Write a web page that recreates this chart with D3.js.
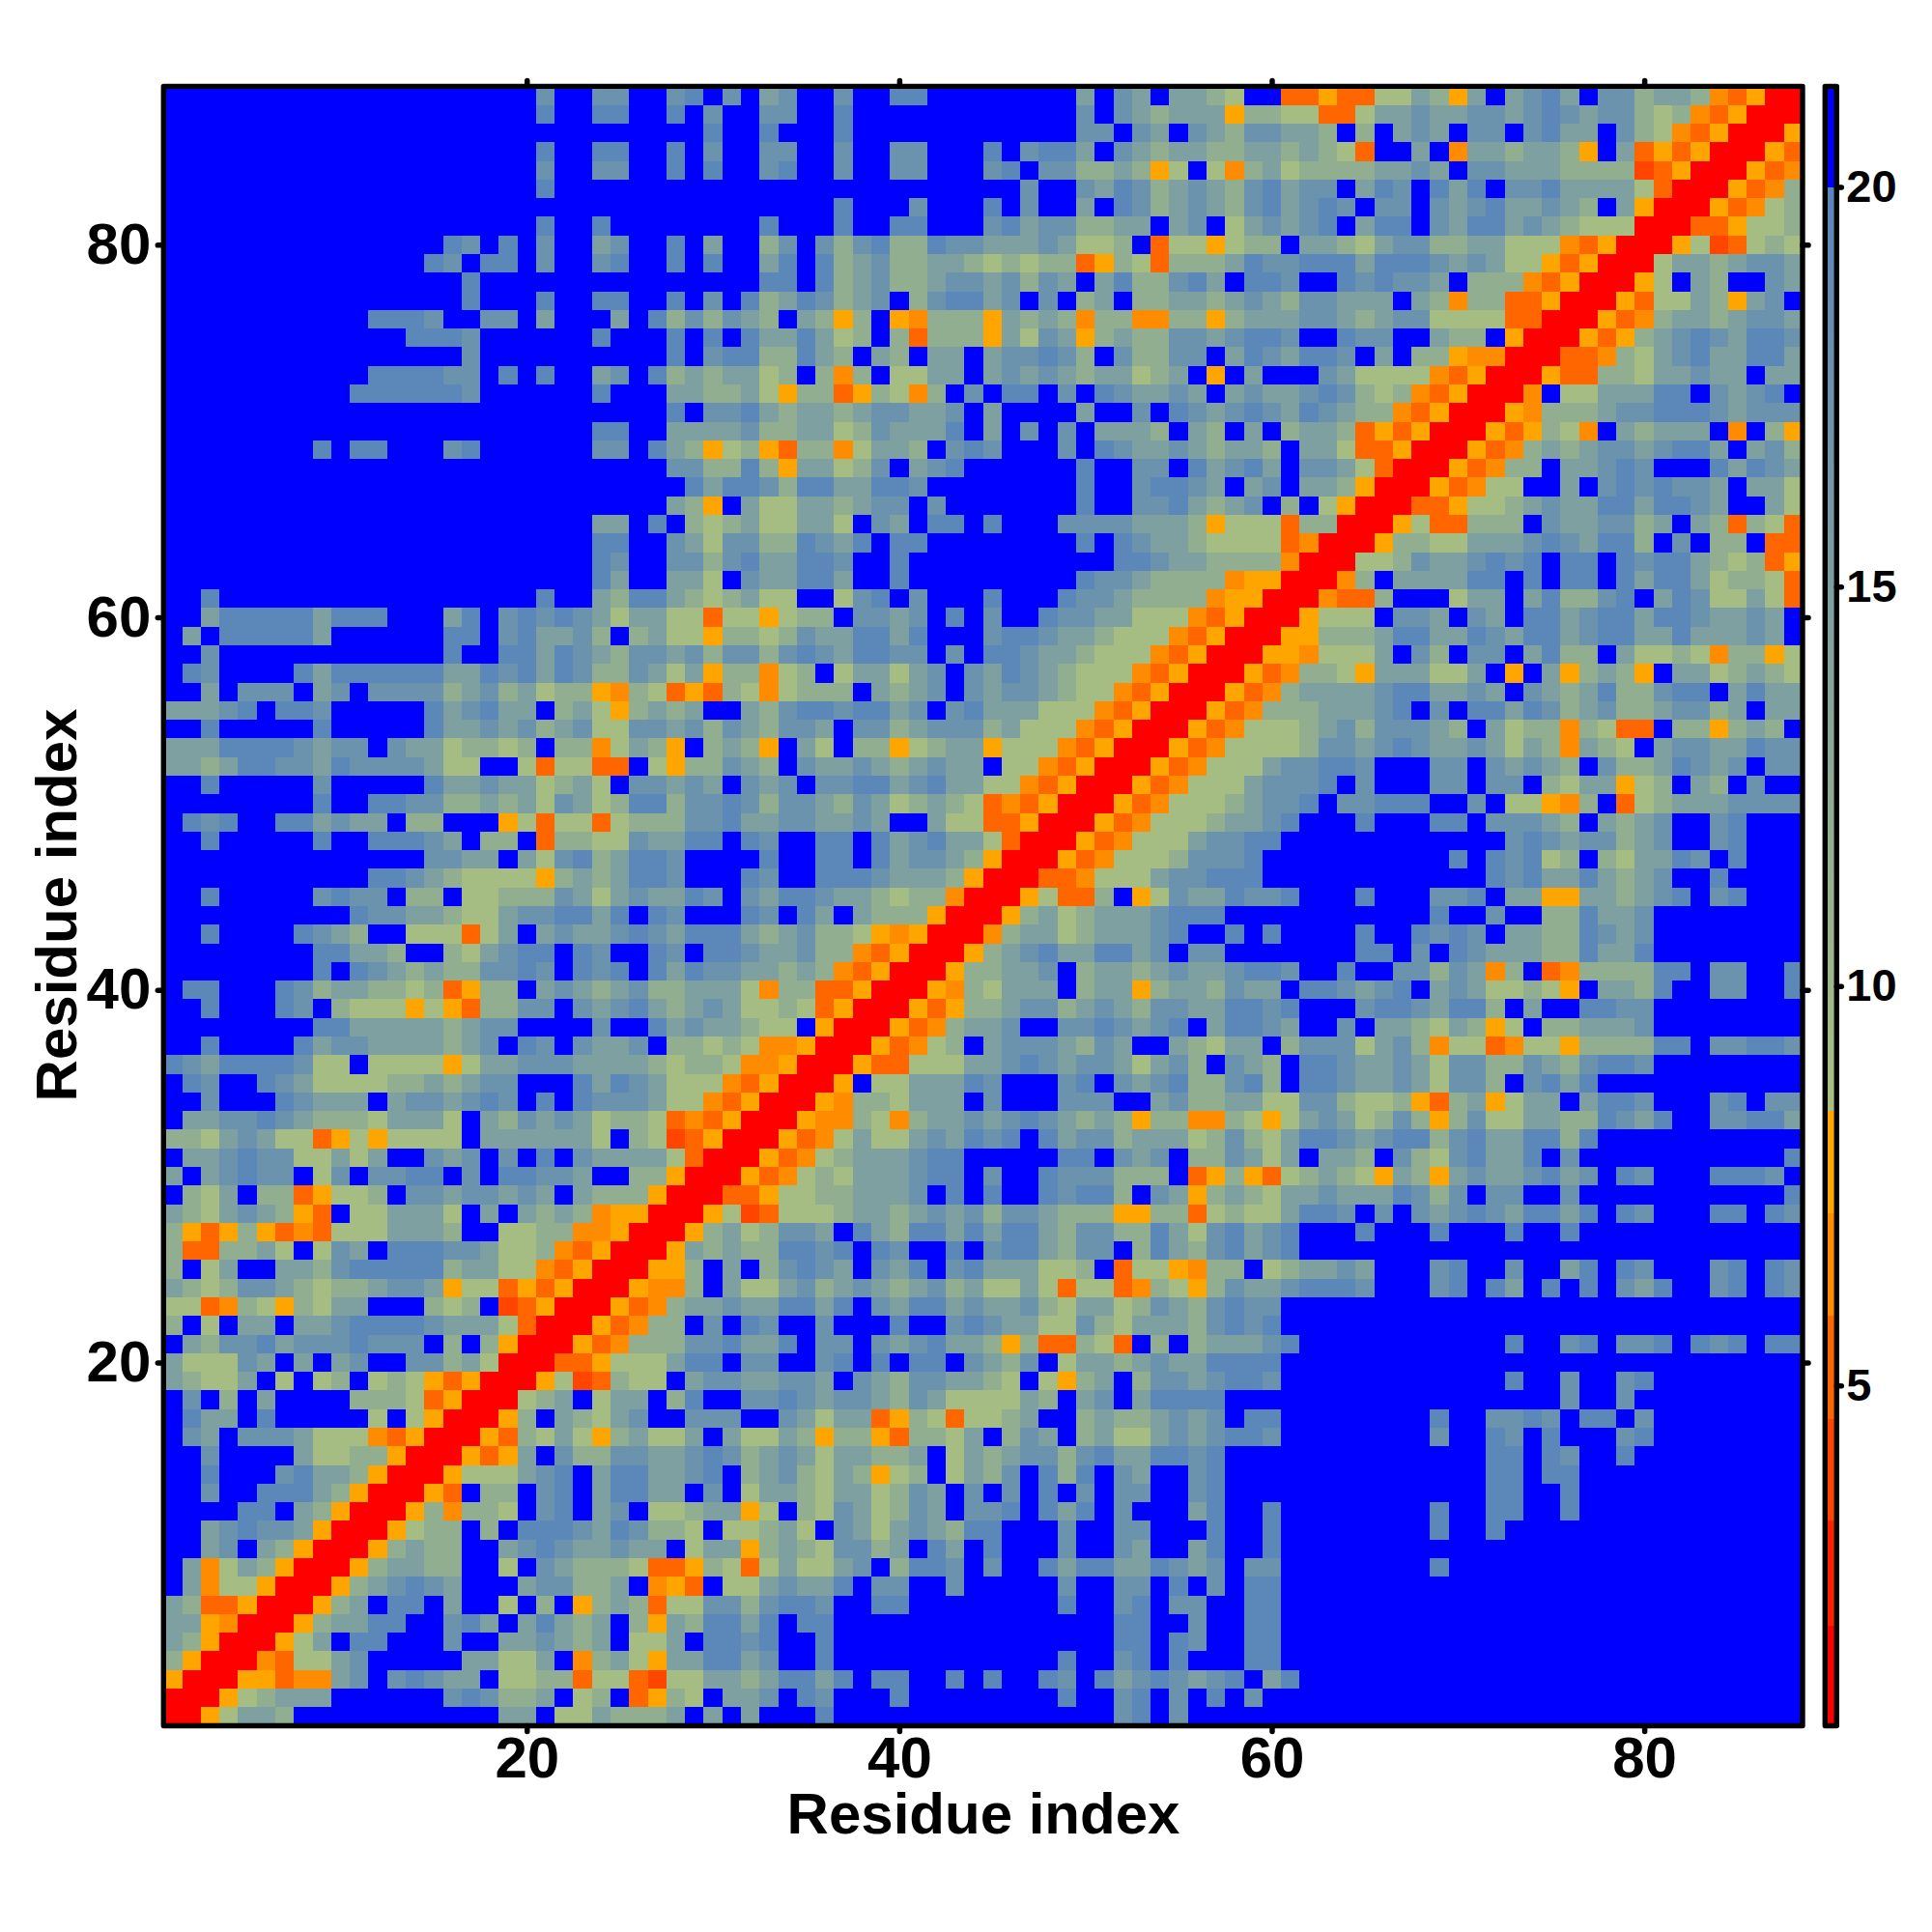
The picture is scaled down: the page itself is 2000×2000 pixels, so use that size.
<!DOCTYPE html>
<html>
<head>
<meta charset="utf-8">
<script src="https://cdn.jsdelivr.net/npm/d3@7/dist/d3.min.js"></script>
<style>
html,body{margin:0;padding:0;background:#fff}
svg{display:block}
text{font-family:"Liberation Sans",Arial,sans-serif;font-weight:bold;fill:#000}
</style>
</head>
<body>
<svg id="chart" width="2000" height="2000"></svg>
<script>
// Each row is one residue index, from 88 at the top down to 1; three space separated column groups (1-29, 30-59, 60-88)
const matrixRows = [
"BBBBBBBBBBBBBBBBBBBB2BB22BB21 B2B32BB2BB11BBBBBBBB3B23B3345B Beeoee5534o3B3213B224334deoxx",
"BBBBBBBBBBBBBBBBBBBB1BB11BB1B 2BB22BB1BBBBBBBBBBBB2B234333o4 455ee533233223212322454deoxxx",
"B 1BB1BBB1BBBBBBBBBBBB22B23B2342 2334B4B323B22B2133B245deoxxxo",
"BBBBBBBBBBBBBBBBBBBB1BB11BB1B 2BB22BB2BB22BBB1B2113B23433443 34345eBB3Bd334334oB3eoeoxxxoe",
"BBBBBBBBBBBBBBBBBBBB2BB22BB1B 1BB21BB2BB22BBB21B224434o5B5d4 3544443323B223334444reoxxxoed",
"BBBBBBBBBBBBBBBBBBBB1BBBBBBBB BBBBBBBBBBBBBBBBB2BB2312432342 1322B312B131B22133335exxxoed4",
"B BBBBBBB1BBB2BBB1B2BB3B12432342 13212B22B232133234B3oxxxoed54",
"BBBBBBBBBBBBBBBBBBBB1BB1BBBBB BBB1BBB1BB11BBB213224433B32B53 2321B311B23113234555xxxeeo554",
"BBBBBBBBBBBBBBB12B1B2BB32BB1B 3BB42B24214412233323554Be55o54 4B33453224433555deoxxxo5re545",
"BBBBBBBBBBBBBB12B11B2BB21BB1B 1BB31B14324433454544eo45e44431 221113111232355oeoxxx53343223",
"BBBBBBBBBBBBBBBB1BBBBBBBBBBBB BBB11B14324432232423B3144213B1 12BB121223B444deoxxxo5B34BB23",
"BBBBBBBBBBBBBBBB1BBB1BB11BB1B 2B14312432B421132B2B43B4433432 3422333B34d44eeoxxxoe5534o32B",
"BBBBBBBBBBB1112BB22B3BBB3B142 4234B34o4Bod444o3434d44dd44o43 3322343225555eexxxoed43343223",
"BBBBBBBBBBBBB1112BBBBBB1BBB1B 1B1331354B4e444o3523o434422321 12BB122BB344Boxxxoeo432123112",
"BBBBBBBBBBBBBBBB2BBBBBBBBBB1B 21144134B34B33B322124B24422B31 23112B3B44oddxxxeed4532133113",
"BBBBBBBBBBB111122B1B1BB32B143 43354B4d4B5533B32323433543BoB3 BBB235555deoxxxoee44533233B33",
"BBBBBBBBBB1111112BBBBBB1BBB33 4435o44eo45d4B2B11B2B123323B32 33212454deoxxxdB5533311B2321B",
"BBBBBBBBBBBBBBBBBBBBBBBBBBB1B 22134334322332B3BBBB3BB2B12321 2312344deoxxxod44432211123222",
"BBBBBBBBBBBBBBBBBBBBBBB11BB33 33244335423331B3B2B2B3334B34B3 B4334eoeoxxxoeo45dB34333BdB4o",
"BBBBBBBB1B11BBB21BBBBBB22B134 o54oe44d5334B212BBB2B123323433 4B335eeoxxxoed43432232113B324",
"BBBBBBBBBBBBBBBBBBBBBBBBBBB22 4414o33542B321BBBBBB1BB22B1321 3B2235exxxoed44B33212BBB13123",
"BBBBBBBBBBBBBBBBBBBBBBBBBBBB1 311241133112BBBBBBBB1BB21123B3 2B334oxxxoed55BB3B2121223B335",
"BBBBBBBBBBBBBBBBBBBBBBBBBBB34 oB355334322B2BBBBBBB1BB2213432 B4B5oxxxeeo55432331131123BB35",
"BBBBBBBBBBBBBBBBBBBBBBB33B1B4 54355335B23B11B1BBB22223334o55 5e44xxxo5ee444B2332243B34e45e",
"BBBBBBBBBBBBBBBBBBBBBBB11BB23 522441231B11BBBBBBBB1B12334555 5edxxxo44553332123114B2B44Bee",
"BBBBBBBBBBBBBBBBBBBBBBB12BB22 42133112BB1BBBBBBBBBBB11233444 4dxxx5542332121B11B12113454eo",
"BBBBBBBBBBBBBBBBBBBBBBB13BB33 5B233113BB1BBBBBBBBB12234444do oxxxd4B333311B1B11B131135445e",
"BB1BBBBBBBBBBBBBBBBB1BB341134 54355BB521B2BBB1BBB12234444doo xxxdee4BBB533B314421B3125535e",
"BB3111113111BBB31B21212353355 e55o544B2232B1B2BB12233555deox xxo555B223B23B11321131123323B",
"B3B111113BBBBBB11B213324B4355 o44542331131BBB2112334555deoxx xoo4443113312311321133133323B",
"BB2BBBBBBBBBBBB1BB11312342232 422421231122B2B112334555deoxxx ood5553B24B22B3144B35545d44o5",
"B12BBBB1311111133121312442353 o44d54B533532B231234555deoxxxo ed445o333553BoB3o434oB3354345",
"BB3B222B32B222243243544od45eo e45d5444B3432B23223455deoxxxoe d433332113323B2343144211B3133",
"33321B112BBBBB132133B435o4343 BB3421121132B21333555deoxxxoed 44433321B2B113124324432243B33",
"BB1BBBBB1BBBBB133232432552232 4234223B224322243555deoxxxoed5 55432422234B3544d45eeB44o434B",
"33311112322B23354454B44d534oB 434oB35B44o5433o555deoxxxoed55 5542232123323534d345B32233122",
"33431122312222355BB5e55eeB5o4 4234B2332343233B55deoxxxoed555 322112BBB22B23234B24431232B22",
"BB1BBBBB2BBBBB1332335435B2232 3B232B22113213355deoxxxoed5553 2221B2BBB22B22B4533o54B34B2BB",
"BBBBBBBB1BB112244343523541142 212422342354345edeoxxxoed55543 221B22111BB2B55od4Be543332222",
"B121BB113233B44BBBo5e55e54442 2133223323BB355eeoxxxoed555433 21BBB1BBB11B22234B3432BB21BBB",
"BB1BBBBB1BB11123B44Be44552331 1B12BB11B1321335exxxoed5553221 1BBBBBBBBBBBB212322432BB21BBB",
"BBBBBBBBBBBBBB2233B352143112B BBB1BB11B132234oxxxoed55542221 BBBBBBBBBB1B12154B453312B1BBB",
"BBBBBBBBBBB112345555o4343112B BB12BB11123334oxxxeed555322111 BBBBBBBBBBBB1213313432BB1BBBB",
"BB1BBBBB2122B44B5544423532331 2B23112334544dxxxo5ee4Bo523312 21BBB1BBB221B33oo334321B21BBB",
"BBBBBBBBBB122334553221131B12B BB12B13B3444oxxxo43543332111BB BBBBBBBBB1BB2BB441332BBBBBBBB",
"BB1BBBB1234BB555e53B323321231 113432445odoxxxd4335433321BB1B 1BBBB1BB1212B33441232BBBBBBBB",
"BBBBBBBB11334BB453211B12BB12B 11233244deoxxxo4321331132B22BB BBBBB11B2B12333441331BBBBBBBB",
"BBBBBBBB1B12343442212B121B131 2233434deoxxxo44332B4334323321 12BB1BB22423d4Bed444411B22BB1",
"B11BBB124334454eo44B323432443 335d44eeoxxxod45333B433o433423 3B112321B3235545oB3341BB22BB1",
"BB1BBB12B4555o5oe4422B2321343 235545eoxxxoeo4432243234223311 21BBB21123114B3BB1122BBBBBBBB",
"BBBBBBBB11333334322BBBB2BB132 33455Boxxxoed4332BB2212321B311 23BB2B334534o5B443332BBBBBBBB",
"BB1BBBB13223333432B12B2332B44 545ddoxxxoed54B32223423BB34533 B42225324d55ed55o444411B22112",
"1231111255B5555o5332223333454 45ddoxxxoee5553321232235324B23 4B1123323522442342112BBBBBBBB",
"B12BB12355554434322BBB1312355 5deoxxxoB5533312BBB21B23214421 4B11233235224B2131BBBBBBBBBBB",
"BB2BBB12333B3223212B1B1222355 deoxxxod445333B2BBB222BB324433 55224554oe43o533B3112BBB21B22",
"B332212344453335B3423235445ed eoxxxodd45d433232123434o44dd45 o53235424o425533441231BB22113",
"44532355eo5o5555B3333335B45re oxxxoed5355323121B132243335424 531123211421331141BBBBBBBBBBB",
"B33212255353BB232B2B1B233335e xxxoed54333211BBBBB11B232B4423 53B334B24521331B2BBBBBBBBBBB1",
"3B32122B52B2211B2B11223BB44ox xxoed545333211B2BB1222444Beo4o e54345o34o32332132B12BBB1112B",
"B453B44eo554B22322323B3444oxx xeeo55443332B1B1BB12114B23o434 53323331242B22BB2BBBBBBBBBBB1",
"3453234oeB553335B3B3434dooxxx o5re555433432324223444oo44e545 53112B2B2321231131B12BBB11B12",
"4oeo4oede5553334BB5544ddoxxxo 4354223B1341131311342244135213 21BBB1BBB1BBB1BB1BBBBBBBBBBBB",
"4ee4435B523B111223554deoxxxo3 43441121B12BB1B2113422B4134213 21BBBBBBBBBBBBBBBBBBBBBBBBBBB",
"4B53BB33421111143355deoxxxoo4 B3B42123B231B21333554Be55od44B 543323BBB21BB2BB31B12BBB21B12",
"345422345443223o55eoeoxxxodd4 B355324323432435535e55ed45o423 321112BBB21B13B1B1B231BB21B12",
"55ed45o4533BBB454Breoxxxoed43 32331131B231132332453354234212 2B",
"4B5B33B332111123335exxxoed44B 2B12BB2BBB1BB21233552453334212 1B",
"B3422132221222B4B4oxxxoed4442 21331B22B2321334o4ee45eB4B4333 21BBBBBBBBBBB1BB21B221B121B11",
"355523B3B32BB22435xxxeeo55531 1B22BB21B1B11B2342B53343233111 1B",
"34553B5B54B545oeoxxxo5re455B3 2233223B234223345B5o43B4223211 2BBBBBBBBBBBB1BB2BB21BBBBBBBB",
"B2B4B3BBBB4445eoxxx543B533B41 BB22123223423555534B32B31111BB BBBBBBBBBBBBBBBB2BB2BBBBBBBBB",
"B133B1BBBBB5B5oxxxo4B34532BB2 22BB23533eo45e5543BB43443232B1 1BBBBBBBB1BB2212B11B2BBBBBBBB",
"B23B2223555deoxxxoe4535o43553 B35534o44oe4453B423B4355323211 2BBBBBBBB2BB12B1BBB21BBBBBBBB",
"BB2BBBB35544oxxxoeo3B24422332 124323533443B534322421331121BB BBBBBBBBBBBB11B12BB1BBBBBBBBB",
"BB1BBB21334oxxxo555321B311332 1B4324534o54B5342B141B23BB21BB BBBBBBBBBBBB11B11BBBBBBBBBBBB",
"BB2BB11134oxxxoeB44B21B31133B 2B53345335423B2B2B1B2B22BB21BB BBBBBBBBBBBB11BB1BBBBBBBBBBBB",
"BBBB11B34oxxxo4d445B21B32B554 33o5B45235423B221B131B2BBB31BB 1BBBBBBBB1BB11BB1BBBBBBBBBBBB",
"BB321223oxxxo544B4B1112312445 B55435B235323411BBB2BB22BBB1BB 1BBBBBBBB1BB1BBBBBBBBBBBBBBBB",
"BB32B34oxxxo4344BB321233233B5 33o43452243B13B1BBB2BB23BB31BB 1B",
"B3d534oxxxo43344BB5B234445eeo 45e535532B4112B2BB1311331232B2 2BBBBBBBB1BBBBBBBBBBBBBBBBBBB",
"B3d55oxxxo432123BBB322443Bdoe B5532331B22BB2BBBBB2BB22B1B2B1 1B",
"34eeoxxxo43B11B3BB5B4Bo434e55 2242112BB11BBBBBBBB1BB21B22BB1 1B",
"33odxxxo43311BB213B31343B4o34 1131B11BBBBBBBBBBBBBBB11BB2BB1 1B",
"34oxxxo53B11BBB2BB332343B553B 1121BB1BBBBBBBBBBBBBBB11B12BB1 1B",
"4oxxxde5532BBBBB33553Bd435o33 1132BB1BBBBBBBBBBBB1BB21B1BBB1 1B",
"oxxxooedd32B21233B5544e55er55 33431131B11BB1B1BB12B13212321B 31B",
"xxxo54333BBBBBB212443B54Beo45 B332B12BBB1BBBBBBBB1BB21B2B1B2 B",
"xxo5334BBBBBBBBBBB33B5534443B 3B3BBB1BBBBBBBBBBBBBBB21B2BBBB B"
];
const levelCodes  = ["x","r","e","d","o","5","4","3","2","1","B"];
const levelValues = [1.5, 4.0, 5.2, 6.5, 7.8, 9.0, 11.9, 14.8, 17.3, 19.7, 21.0];
const axisTicks   = [20, 40, 60, 80];
const barTicks    = [5, 10, 15, 20];
const bandBreaks  = [2.01, 3.32, 4.59, 5.88, 7.16, 8.44, 20];
const bandColors  = ["#ff0000","#ff2200","#ff4500","#ff6600","#ff8c00","#ffa500",null,"#0000ff"];
const rampColors  = ["#a9c07f","#5a85bb"];
const axisTitle   = "Residue index";

const groupLengths = [29, 30, 29];
const valueOf = Object.fromEntries(levelCodes.map((c, i) => [c, levelValues[i]]));
const nRes = matrixRows.length;
const cells = [];
matrixRows.forEach((row, k) => {
  const parts = row.split(" ");
  let full = "";
  if (parts.length === 2) { parts.splice(0, 0, "B"); }
  groupLengths.forEach((n, i) => { full += (parts[i] || "").padEnd(n, "B").slice(0, n); });
  [...full].forEach((ch, c) => cells.push({x: c + 1, y: nRes - k, v: valueOf[ch]}));
});

const L = 169.3, R = 1866, T = 89.4, B = 1786.5;
const x = d3.scaleLinear().domain([0.5, nRes + 0.5]).range([L, R]);
const y = d3.scaleLinear().domain([0.5, nRes + 0.5]).range([B, T]);

const band = d3.scaleThreshold().domain(bandBreaks).range(bandColors);
const ramp = d3.scaleLinear().domain([8.44, 20]).range(rampColors).clamp(true);
const color = v => band(v) || ramp(v);

const svg = d3.select("#chart");
svg.append("g").attr("shape-rendering", "crispEdges")
  .selectAll("rect").data(cells).join("rect")
  .attr("x", d => x(d.x - 0.5))
  .attr("y", d => y(d.y + 0.5))
  .attr("width", d => x(d.x + 0.5) - x(d.x - 0.5) + 0.4)
  .attr("height", d => y(d.y - 0.5) - y(d.y + 0.5) + 0.4)
  .attr("fill", d => color(d.v));

function styleAxis(g, size) {
  g.select(".domain").remove();
  g.selectAll(".tick line").attr("stroke", "#000").attr("stroke-width", 5.5).attr("stroke-linecap", "round");
  g.selectAll(".tick text").attr("font-size", size).attr("fill", "#000");
}
const tickLen = 6;
const ax = (fn, sc) => fn(sc).tickValues(axisTicks).tickSize(tickLen).tickSizeOuter(0);
svg.append("g").attr("transform", `translate(0,${B})`)
  .call(ax(d3.axisBottom, x).tickPadding(5)).call(g => styleAxis(g, 60));
svg.append("g").attr("transform", `translate(0,${T})`)
  .call(ax(d3.axisTop, x).tickFormat("")).call(g => styleAxis(g, 60));
svg.append("g").attr("transform", `translate(${L},0)`)
  .call(ax(d3.axisLeft, y).tickPadding(7)).call(g => styleAxis(g, 60));
svg.append("g").attr("transform", `translate(${R},0)`)
  .call(ax(d3.axisRight, y).tickFormat("")).call(g => styleAxis(g, 60));

svg.append("rect").attr("x", L).attr("y", T).attr("width", R - L).attr("height", B - T)
  .attr("fill", "none").attr("stroke", "#000").attr("stroke-width", 5.4).attr("stroke-linejoin", "round");

svg.append("text").attr("x", 1018).attr("y", 1898).attr("text-anchor", "middle")
  .attr("font-size", 60).text(axisTitle);
svg.append("text").attr("transform", "translate(79,937) rotate(-90)").attr("text-anchor", "middle")
  .attr("font-size", 60).text(axisTitle);

// colour bar
const barL = 1889.3, barR = 1901.3;
const barDomain = [0.74, 21.26];
const barY = d3.scaleLinear().domain(barDomain).range([B, T]);
const barSteps = d3.range(barDomain[0], barDomain[1], 0.02);
svg.append("g").attr("shape-rendering", "crispEdges")
  .selectAll("rect").data(barSteps).join("rect")
  .attr("x", barL).attr("width", barR - barL)
  .attr("y", d => barY(d + 0.02))
  .attr("height", d => barY(d) - barY(d + 0.02) + 0.5)
  .attr("fill", d => color(d + 0.01));
svg.append("rect").attr("x", barL).attr("y", T).attr("width", barR - barL).attr("height", B - T)
  .attr("fill", "none").attr("stroke", "#000").attr("stroke-width", 5.4).attr("stroke-linejoin", "round");
svg.append("g").attr("transform", `translate(${barR},0)`)
  .call(d3.axisRight(barY).tickValues(barTicks).tickSize(5).tickSizeOuter(0).tickPadding(5))
  .call(g => styleAxis(g, 47));
</script>
</body>
</html>
